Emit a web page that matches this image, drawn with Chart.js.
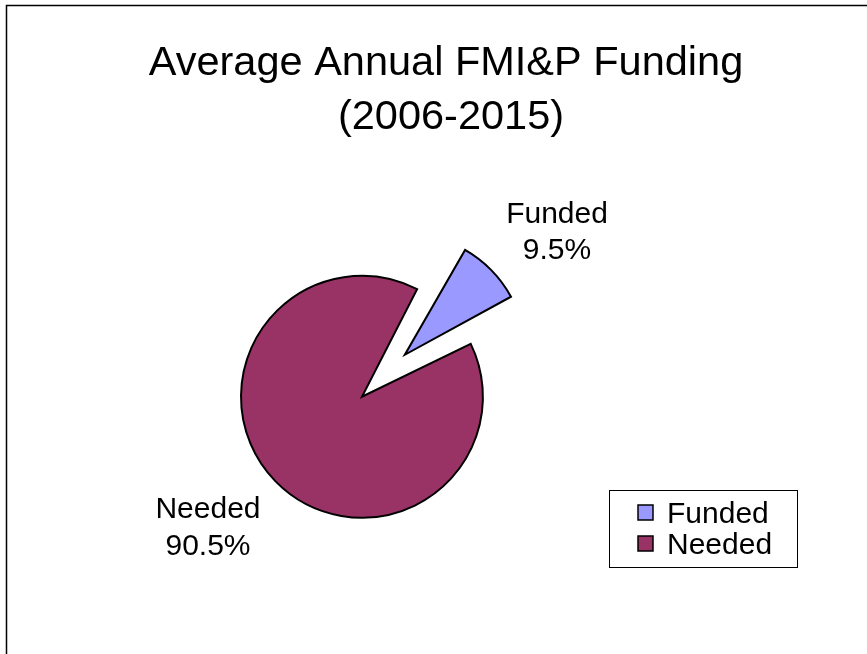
<!DOCTYPE html>
<html>
<head>
<meta charset="utf-8">
<script src="https://cdn.jsdelivr.net/npm/chart.js@4.4.1/dist/chart.umd.min.js"></script>
<style>
  html, body { margin: 0; padding: 0; background: #ffffff; }
  #wrap { position: relative; width: 867px; height: 654px; }
  canvas { display: block; }
</style>
</head>
<body>
<div id="wrap"><canvas id="c" width="867" height="654"></canvas></div>
<script>
const titleLines = ["Average Annual FMI&P Funding", "(2006-2015)"];
const categories = ["Funded", "Needed"];
const shares = [9.5, 90.5];
const sliceColors = ["#9999FF", "#993366"];
// Chart.js moves an arc by offset/4 px and also grows its radius;
// splitting the offset between both slices keeps their radii equal.
const sliceOffsets = [167, 73];

const FONT = '"Liberation Sans", Arial, sans-serif';

const decorPlugin = {
  id: 'decor',
  beforeDraw(chart) {
    const ctx = chart.ctx;
    ctx.save();
    ctx.fillStyle = '#ffffff';
    ctx.fillRect(0, 0, chart.width, chart.height);
    ctx.restore();
  },
  afterDraw(chart) {
    const ctx = chart.ctx;
    ctx.save();
    // outer frame (top and left visible)
    ctx.strokeStyle = '#000000';
    ctx.lineWidth = 1.5;
    ctx.strokeRect(6.5, 5.5, 1000, 1000);

    // title
    ctx.fillStyle = '#000000';
    ctx.textAlign = 'center';
    ctx.textBaseline = 'alphabetic';
    ctx.font = '41.5px ' + FONT;
    ctx.fillText(titleLines[0], 446, 75);
    ctx.fillText(titleLines[1], 451, 129);

    // data labels
    ctx.font = '30px ' + FONT;
    const labelPos = [[557, 223, 259], [208, 518, 555]];
    categories.forEach((name, i) => {
      const p = labelPos[i];
      ctx.fillText(name, p[0], p[1]);
      ctx.fillText(shares[i].toFixed(1) + '%', p[0], p[2]);
    });

    // legend
    ctx.lineWidth = 1;
    ctx.strokeStyle = '#000000';
    ctx.strokeRect(609.5, 490.5, 188, 77);
    ctx.textAlign = 'left';
    const rows = [505, 536];
    categories.forEach((name, i) => {
      ctx.fillStyle = sliceColors[i];
      ctx.fillRect(638, rows[i], 15, 15);
      ctx.strokeStyle = '#000000';
      ctx.lineWidth = 1.5;
      ctx.strokeRect(638, rows[i], 15, 15);
      ctx.fillStyle = '#000000';
      ctx.fillText(name, 667, rows[i] + 18);
    });
    ctx.restore();
  }
};

new Chart(document.getElementById('c'), {
  type: 'pie',
  data: {
    labels: categories,
    datasets: [{
      data: shares,
      backgroundColor: sliceColors,
      borderColor: '#000000',
      borderWidth: 2,
      borderJoinStyle: 'miter',
      offset: sliceOffsets
    }]
  },
  options: {
    responsive: false,
    animation: false,
    events: [],
    rotation: 28.5,
    radius: 102.7,
    layout: { padding: { left: 0, right: 117, top: 114, bottom: 0 } },
    plugins: {
      legend: { display: false },
      title: { display: false },
      tooltip: { enabled: false }
    }
  },
  plugins: [decorPlugin]
});
</script>
</body>
</html>
